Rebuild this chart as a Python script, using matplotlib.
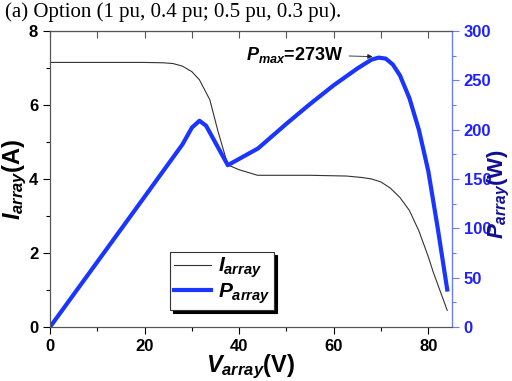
import matplotlib
matplotlib.use("Agg")
import matplotlib.pyplot as plt
from matplotlib.ticker import MultipleLocator

plt.rcParams['font.family'] = 'Liberation Sans'
plt.rcParams['mathtext.fontset'] = 'custom'
plt.rcParams['mathtext.it'] = 'Liberation Sans:italic:bold'
plt.rcParams['mathtext.rm'] = 'Liberation Sans:bold'
plt.rcParams['mathtext.bf'] = 'Liberation Sans:bold'

# Current curve
v_i = [0, 5, 10, 15, 20, 24, 26, 28, 30, 31.6, 33.8, 35.5, 37.6, 40, 43.9, 50, 55, 62.7, 66, 68, 70, 72, 74, 76, 78, 79, 80, 81, 82, 83, 84]
i_arr = [7.15, 7.15, 7.15, 7.15, 7.15, 7.14, 7.12, 7.05, 6.9, 6.68, 6.14, 5.3, 4.38, 4.25, 4.1, 4.1, 4.1, 4.08, 4.04, 4.0, 3.92, 3.75, 3.5, 3.15, 2.6, 2.25, 1.9, 1.5, 1.15, 0.8, 0.45]
# Power curve
v_p = [0, 10, 20, 28, 30, 31.6, 33, 37.6, 44, 50, 55, 60, 65, 68, 69.5, 71, 72.5, 74, 76, 78, 80, 82, 84]
p_arr = [0, 66, 132, 185, 202, 209, 204, 164, 181, 206, 226, 245, 262, 271, 273, 272, 266, 255, 232, 200, 158, 100, 38]

fig = plt.figure(figsize=(5.12, 3.81), dpi=100)
ax = fig.add_axes([0.0977, 0.1417, 0.785, 0.777])
ax2 = ax.twinx()

ax.plot(v_i, i_arr, color='#333333', lw=0.8, label=r'$I_{array}$')
ax2.plot(v_p, p_arr, color='#1a35ff', lw=3, label=r'$P_{array}$')

ax.set_xlim(0, 85)
ax.set_ylim(0, 8)
ax2.set_ylim(0, 300)
ax.xaxis.set_major_locator(MultipleLocator(20))
ax.xaxis.set_minor_locator(MultipleLocator(10))
ax.yaxis.set_major_locator(MultipleLocator(2))
ax.yaxis.set_minor_locator(MultipleLocator(1))
ax2.yaxis.set_major_locator(MultipleLocator(50))
ax2.yaxis.set_minor_locator(MultipleLocator(25))

ax.tick_params(axis='both', which='both', direction='out', labelsize=12, width=0.8)
ax.tick_params(which='major', length=5)
ax.tick_params(which='minor', length=3)
for lab in ax.get_xticklabels() + ax.get_yticklabels():
    lab.set_fontweight('bold')

# top ticks pointing inward
sec = ax.secondary_xaxis('top')
sec.xaxis.set_major_locator(MultipleLocator(20))
sec.xaxis.set_minor_locator(MultipleLocator(10))
sec.tick_params(which='both', direction='in', labeltop=False, width=0.8, color='#555555')
sec.tick_params(which='major', length=5)
sec.tick_params(which='minor', length=5)
sec.spines['top'].set_color('#555555')

blue = '#2020ff'
ax2.tick_params(axis='y', which='both', colors='#6a7aff', labelcolor=blue, labelsize=12, width=0.8)
ax2.tick_params(which='major', length=5)
ax2.tick_params(which='minor', length=3)
for lab in ax2.get_yticklabels():
    lab.set_fontweight('bold')
ax2.spines['right'].set_color('#6a7aff')
for s in ['left', 'bottom', 'top']:
    ax.spines[s].set_color('#555555')
    ax2.spines[s].set_color('#555555')

ax.set_xlabel(r'$V_{array}$(V)', fontsize=17, fontweight='bold', labelpad=-1)
ax.set_ylabel(r'$I_{array}$(A)', fontsize=17, fontweight='bold', labelpad=0)
ax2.set_ylabel(r'$P_{array}$(W)', fontsize=16, fontweight='bold', color='#101090', rotation=90)
ax2.yaxis.set_label_coords(1.085, 0.45)

ax2.annotate(r'$P_{max}$=273W', xy=(68.8, 274), xytext=(41.5, 276),
             fontsize=13, fontweight='bold', va='center',
             arrowprops=dict(arrowstyle='-|>', color='#222222', lw=0.6, mutation_scale=7))

h1, l1 = ax.get_legend_handles_labels()
h2, l2 = ax2.get_legend_handles_labels()
leg = ax2.legend(h1 + h2, l1 + l2, loc='lower left', bbox_to_anchor=(0.298, 0.057),
                 borderaxespad=0, fontsize=15, frameon=True, fancybox=False,
                 shadow={'color': 'black', 'alpha': 1},
                 edgecolor='#333333', handlelength=1.8, handletextpad=0.3,
                 borderpad=0.2, labelspacing=0.05)
leg.get_frame().set_linewidth(0.8)

fig.text(0.01, 0.995, '(a) Option (1 pu, 0.4 pu; 0.5 pu, 0.3 pu).', family='Liberation Serif',
         fontsize=15, va='top', ha='left')

fig.savefig('out.png', dpi=100)
